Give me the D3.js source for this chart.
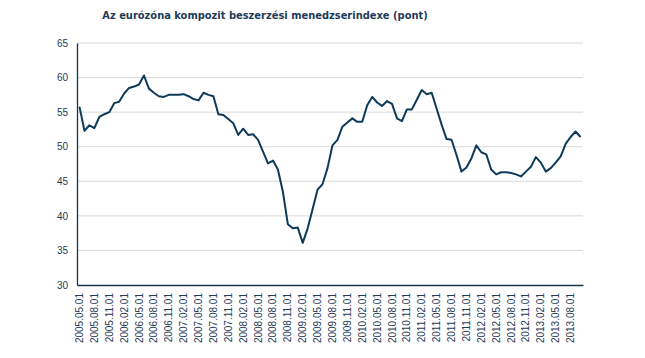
<!DOCTYPE html>
<html>
<head>
    <script src="https://d3js.org/d3.v7.min.js"></script>
    <style>
        body { margin: 0; background: #fff; }
    </style>
</head>
<body>
    <div id="chart"></div>
    <script>
        // Composite PMI, monthly, 2005.05 - 2013.10
        const startYear = 2005, startMonth = 5;
        const pmiValues = [
            55.8, 52.3, 53.1, 52.7, 54.3, 54.7, 55.0, 56.3, 56.5, 57.7, 58.5, 58.7,
            59.0, 60.3, 58.4, 57.8, 57.3, 57.2, 57.5, 57.5, 57.5, 57.6, 57.3, 56.9,
            56.7, 57.8, 57.5, 57.3, 54.7, 54.6, 54.0, 53.4, 51.7, 52.6, 51.7, 51.8,
            51.0, 49.3, 47.6, 48.0, 46.7, 43.5, 38.8, 38.2, 38.3, 36.1, 38.2, 41.0,
            43.8, 44.6, 46.9, 50.2, 51.0, 52.9, 53.5, 54.1, 53.6, 53.6, 56.0, 57.2,
            56.4, 55.9, 56.6, 56.2, 54.1, 53.7, 55.4, 55.4, 56.8, 58.2, 57.6, 57.8,
            55.5, 53.2, 51.1, 51.0, 48.8, 46.4, 47.0, 48.3, 50.2, 49.2, 48.9, 46.7,
            46.0, 46.3, 46.3, 46.2, 46.0, 45.7, 46.4, 47.1, 48.5, 47.7, 46.4, 46.9,
            47.7, 48.6, 50.4, 51.4, 52.2, 51.4
        ];
        const yTicks = [30, 35, 40, 45, 50, 55, 60, 65];
        const title = "Az eurózóna kompozit beszerzési menedzserindexe (pont)";

        // month labels, one per value
        const months = pmiValues.map(function (v, i) {
            const m = startMonth - 1 + i;
            const yy = startYear + Math.floor(m / 12);
            const mm = (m % 12) + 1;
            return yy + "." + (mm < 10 ? "0" + mm : mm) + ".01";
        });
        const data = months.map((d, i) => ({ month: d, value: pmiValues[i] }));

        const margin = { top: 43, right: 62, bottom: 73, left: 77 },
              width = 645 - margin.left - margin.right,
              height = 358 - margin.top - margin.bottom;

        const textColor = "#1f3b57";

        const root = d3.select("#chart").append("svg")
            .attr("width", 645)
            .attr("height", 358);

        root.append("text")
            .attr("x", 265)
            .attr("y", 19)
            .attr("text-anchor", "middle")
            .style("font-family", "'DejaVu Sans Condensed', 'DejaVu Sans'")
            .style("font-size", "11px")
            .style("font-weight", "bold")
            .style("fill", textColor)
            .text(title);

        const svg = root.append("g")
            .attr("transform", `translate(${margin.left},${margin.top})`);

        const x = d3.scaleBand()
            .domain(months)
            .range([0, width]);

        const y = d3.scaleLinear()
            .domain([30, 65])
            .range([height, 0]);

        // gridlines
        svg.append("g")
            .selectAll("line")
            .data(yTicks.slice(1))
            .enter().append("line")
            .attr("x1", 0)
            .attr("x2", width)
            .attr("y1", d => y(d))
            .attr("y2", d => y(d))
            .attr("stroke", "#d9d9d9")
            .attr("stroke-width", 1);

        // Y axis
        const yAxis = svg.append("g")
            .call(d3.axisLeft(y).tickValues(yTicks).tickSize(0).tickPadding(9));
        yAxis.select(".domain").attr("stroke", "#1a3446").attr("stroke-width", 1.3);
        yAxis.selectAll("text")
            .style("font-family", "'Liberation Sans', Arial, sans-serif")
            .style("font-size", "10px")
            .style("fill", textColor);

        // X axis, every 3rd month
        const xAxis = svg.append("g")
            .attr("transform", `translate(0,${height})`)
            .call(d3.axisBottom(x)
                .tickValues(months.filter((d, i) => i % 3 === 0))
                .tickSize(0)
                .tickPadding(0));
        xAxis.select(".domain").attr("stroke", "#1a3446").attr("stroke-width", 1.3);
        xAxis.selectAll("text")
            .style("font-family", "'Liberation Sans', Arial, sans-serif")
            .style("font-size", "10px")
            .style("fill", textColor)
            .style("text-anchor", "end")
            .attr("dx", "-8px")
            .attr("dy", "0.35em")
            .attr("transform", "rotate(-90)")
            .attr("y", 0)
            .attr("x", 0);

        // line
        const line = d3.line()
            .x(d => x(d.month) + x.bandwidth() / 2)
            .y(d => y(d.value));

        svg.append("path")
            .datum(data)
            .attr("fill", "none")
            .attr("stroke", "#0e3a5a")
            .attr("stroke-width", 2)
            .attr("stroke-linejoin", "round")
            .attr("d", line);
    </script>
</body>
</html>
